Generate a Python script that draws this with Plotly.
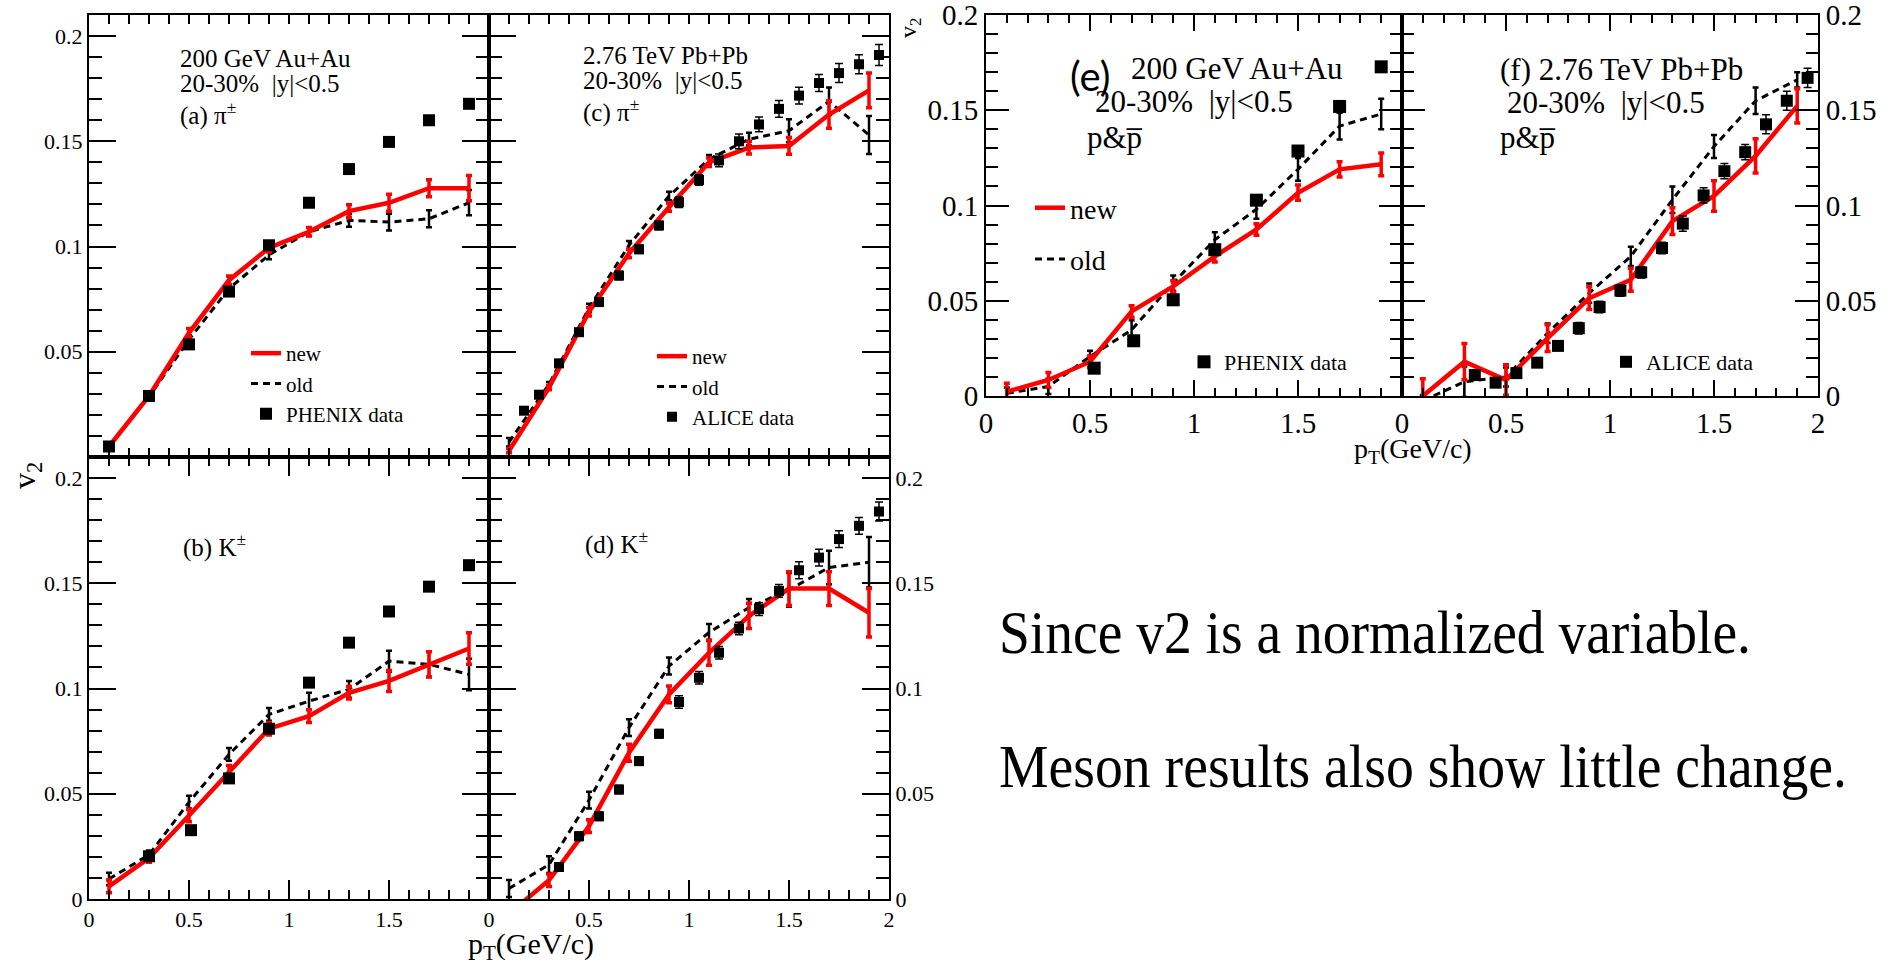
import plotly.graph_objects as go

W, H = 1890, 975
SERIF = "Liberation Serif"

# ---------------- data ----------------
x_model = [0.1, 0.3, 0.5, 0.7, 0.9, 1.1, 1.3, 1.5, 1.7, 1.9]

a_new = [0.005, 0.029, 0.059, 0.084, 0.0994, 0.107, 0.1168, 0.1208, 0.1277, 0.1277]
a_new_err = [0.001, 0.001, 0.002, 0.002, 0.002, 0.002, 0.003, 0.004, 0.004, 0.006]
a_old = [0.005, 0.0286, 0.0558, 0.080, 0.096, 0.107, 0.1124, 0.1116, 0.1132, 0.1208]
a_old_err = [0.001, 0.001, 0.002, 0.002, 0.002, 0.002, 0.003, 0.004, 0.004, 0.006]
a_data_x = [0.1, 0.3, 0.5, 0.7, 0.9, 1.1, 1.3, 1.5, 1.7, 1.9]
a_data = [0.005, 0.029, 0.0535, 0.0786, 0.1006, 0.1208, 0.1368, 0.1497, 0.160, 0.1678]

b_new = [0.006, 0.0195, 0.0397, 0.0604, 0.0809, 0.0869, 0.098, 0.1036, 0.1115, 0.119]
b_new_err = [0.003, 0.002, 0.003, 0.003, 0.003, 0.003, 0.003, 0.005, 0.006, 0.0075]
b_old = [0.0095, 0.021, 0.046, 0.0687, 0.0877, 0.094, 0.0996, 0.113, 0.1115, 0.1067]
b_old_err = [0.003, 0.002, 0.003, 0.003, 0.003, 0.004, 0.004, 0.005, 0.006, 0.0075]
b_data_x = [0.3, 0.51, 0.7, 0.9, 1.1, 1.3, 1.5, 1.7, 1.9]
b_data = [0.0203, 0.0327, 0.0573, 0.0809, 0.1028, 0.1218, 0.1366, 0.1484, 0.1586]

c_new = [0.003, 0.033, 0.069, 0.0967, 0.1187, 0.140, 0.147, 0.1478, 0.1627, 0.1742]
c_new_err = [0.001, 0.001, 0.002, 0.002, 0.002, 0.002, 0.003, 0.004, 0.0065, 0.0083]
c_old = [0.007, 0.0346, 0.0708, 0.1006, 0.124, 0.1415, 0.151, 0.155, 0.169, 0.153]
c_old_err = [0.002, 0.001, 0.002, 0.002, 0.002, 0.002, 0.003, 0.0055, 0.0065, 0.009]
c_data_x = [0.175, 0.25, 0.35, 0.45, 0.55, 0.65, 0.75, 0.85, 0.95, 1.05,
            1.15, 1.25, 1.35, 1.45, 1.55, 1.65, 1.75, 1.85, 1.95]
c_data = [0.022, 0.0296, 0.0445, 0.0593, 0.0736, 0.0862, 0.0987, 0.110, 0.121, 0.1316,
          0.1409, 0.150, 0.158, 0.1654, 0.1717, 0.1777, 0.1824, 0.1866, 0.191]
c_data_err = [0.0015, 0.0015, 0.0015, 0.0015, 0.0015, 0.002, 0.002, 0.002, 0.0025, 0.0025,
              0.003, 0.0035, 0.0035, 0.004, 0.004, 0.004, 0.0045, 0.0045, 0.005]

d_new = [-0.007, 0.0089, 0.0346, 0.0695, 0.0972, 0.117, 0.1345, 0.1475, 0.1475, 0.136]
d_new_err = [0.002, 0.003, 0.003, 0.004, 0.004, 0.006, 0.006, 0.008, 0.008, 0.0115]
d_old = [0.005, 0.0163, 0.047, 0.0814, 0.1107, 0.1266, 0.1385, 0.1469, 0.1575, 0.160]
d_old_err = [0.004, 0.004, 0.004, 0.004, 0.004, 0.004, 0.004, 0.008, 0.008, 0.012]
d_data_x = [0.35, 0.45, 0.55, 0.65, 0.75, 0.85, 0.95, 1.05, 1.15, 1.25,
            1.35, 1.45, 1.55, 1.65, 1.75, 1.85, 1.95]
d_data = [0.0152, 0.0298, 0.0393, 0.052, 0.0655, 0.0785, 0.0936, 0.1051, 0.117, 0.1285,
          0.1377, 0.1464, 0.1562, 0.1622, 0.171, 0.1773, 0.1841]
d_data_err = [0.002, 0.002, 0.002, 0.002, 0.002, 0.002, 0.003, 0.003, 0.003, 0.003,
              0.003, 0.003, 0.004, 0.004, 0.004, 0.004, 0.0045]

e_new = [0.0023, 0.0084, 0.018, 0.0444, 0.0575, 0.0733, 0.0874, 0.1067, 0.119, 0.1216]
e_new_err = [0.0044, 0.004, 0.003, 0.003, 0.003, 0.003, 0.003, 0.004, 0.004, 0.006]
e_old = [0.0014, 0.005, 0.0207, 0.0347, 0.0593, 0.082, 0.098, 0.119, 0.1417, 0.148]
e_old_err = [0.003, 0.004, 0.003, 0.005, 0.004, 0.004, 0.005, 0.006, 0.007, 0.008]
e_data_x = [0.52, 0.71, 0.9, 1.1, 1.3, 1.5, 1.7, 1.9]
e_data = [0.0146, 0.029, 0.0505, 0.0768, 0.1028, 0.1286, 0.152, 0.1728]

f_new = [0.0, 0.018, 0.0084, 0.0304, 0.0514, 0.061, 0.0918, 0.105, 0.126, 0.1523]
f_new_err = [0.009, 0.0095, 0.008, 0.007, 0.006, 0.006, 0.007, 0.008, 0.009, 0.009]
f_old = [-0.0025, 0.0075, 0.010, 0.033, 0.054, 0.0733, 0.103, 0.131, 0.155, 0.166]
f_old_err = [0.003, 0.008, 0.005, 0.005, 0.005, 0.005, 0.007, 0.006, 0.007, 0.004]
f_data_x = [0.35, 0.45, 0.55, 0.65, 0.75, 0.85, 0.95, 1.05, 1.15, 1.25,
            1.35, 1.45, 1.55, 1.65, 1.75, 1.85, 1.95]
f_data = [0.011, 0.007, 0.012, 0.0175, 0.0263, 0.0356, 0.0467, 0.0553, 0.0649, 0.0777,
          0.0905, 0.1053, 0.118, 0.128, 0.1426, 0.155, 0.167]
f_data_err = [0.002, 0.002, 0.002, 0.002, 0.002, 0.003, 0.003, 0.003, 0.003, 0.003,
              0.004, 0.004, 0.004, 0.004, 0.005, 0.005, 0.005]

x_ticks = [0, 0.5, 1, 1.5, 2]
y_ticks = [0, 0.05, 0.1, 0.15, 0.2]


def px(x):
    return x / W


def py(y):
    return 1 - y / H


def xdom(a, b):
    return [a / W, b / W]


def ydom(top, bot):
    return [1 - bot / H, 1 - top / H]


def make_axis(domain, anchor, rng, tickvals, ticktext, majlen, minlen, minor_step,
              fsize, side=None, show=True):
    ax = dict(domain=domain, anchor=anchor, range=rng, showline=True, linecolor="black",
              linewidth=2, mirror="allticks", ticks="inside", ticklen=majlen, tickwidth=2,
              tickcolor="black", tickmode="array", tickvals=tickvals, ticktext=ticktext,
              showgrid=False, zeroline=False, showticklabels=show, ticklabeloverflow="allow",
              automargin=False,
              tickfont=dict(family=SERIF, size=fsize, color="black"),
              minor=dict(ticks="inside", ticklen=minlen, tickwidth=2, tickcolor="black",
                         tickmode="linear", tick0=0, dtick=minor_step, showgrid=False))
    if side:
        ax["side"] = side
    return ax


fig = go.Figure()

panels = [
    ("a", "x", "y", a_new, a_new_err, a_old, a_old_err, a_data_x, a_data, None, "legend", "PHENIX data", 12),
    ("b", "x2", "y2", b_new, b_new_err, b_old, b_old_err, b_data_x, b_data, None, None, "PHENIX data", 12),
    ("c", "x3", "y3", c_new, c_new_err, c_old, c_old_err, c_data_x, c_data, c_data_err, "legend2", "ALICE data", 10),
    ("d", "x4", "y4", d_new, d_new_err, d_old, d_old_err, d_data_x, d_data, d_data_err, None, "ALICE data", 10),
    ("e", "x5", "y5", e_new, e_new_err, e_old, e_old_err, e_data_x, e_data, None, "legend3", "PHENIX data", 13),
    ("f", "x6", "y6", f_new, f_new_err, f_old, f_old_err, f_data_x, f_data, f_data_err, None, "ALICE data", 12),
]

for (name, xr, yr, nv, ne, ov, oe, dx, dv, de, leg, dname, ms) in panels:
    show_lines = leg is not None
    lg = leg if leg else "legend"
    fig.add_trace(go.Scatter(
        x=x_model, y=ov, mode="lines", name="old", xaxis=xr, yaxis=yr,
        line=dict(color="black", width=3, dash="7px,5px"),
        error_y=dict(type="data", array=oe, color="black", thickness=2.5, width=3),
        showlegend=show_lines, legend=lg, legendgroup=name + "old", legendrank=2))
    fig.add_trace(go.Scatter(
        x=x_model, y=nv, mode="lines", name="new", xaxis=xr, yaxis=yr,
        line=dict(color="#ff0000", width=4.5),
        error_y=dict(type="data", array=ne, color="#ff0000", thickness=3.5, width=3),
        showlegend=show_lines, legend=lg, legendgroup=name + "new", legendrank=1))
    if name in ("a", "c"):
        dleg, dshow = lg, True
    elif name == "e":
        dleg, dshow = "legend4", True
    elif name == "f":
        dleg, dshow = "legend5", True
    else:
        dleg, dshow = "legend", False
    err = dict(type="data", array=de, color="black", thickness=1.5, width=4) if de else None
    fig.add_trace(go.Scatter(
        x=dx, y=dv, mode="markers", name=dname, xaxis=xr, yaxis=yr,
        marker=dict(symbol="square", size=ms, color="black"),
        error_y=err, showlegend=dshow, legend=dleg, legendgroup=name + "data", legendrank=3))

xt_none = ["", "", "", "", ""]
xt_b = ["0", "0.5", "1", "1.5", ""]
xt_full = ["0", "0.5", "1", "1.5", "2"]
yt_a = ["", "0.05", "0.1", "0.15", "0.2"]
yt_full = ["0", "0.05", "0.1", "0.15", "0.2"]

layout_axes = dict(
    xaxis=make_axis(xdom(89, 489), "y", [0, 2], x_ticks, xt_none, 19, 9, 0.1, 22, show=False),
    yaxis=make_axis(ydom(15, 457), "x", [0, 0.21], y_ticks, yt_a, 27, 13, 0.01, 22),
    xaxis2=make_axis(xdom(89, 489), "y2", [0, 2], x_ticks, xt_b, 19, 9, 0.1, 22),
    yaxis2=make_axis(ydom(457, 899), "x2", [0, 0.21], y_ticks, yt_full, 27, 13, 0.01, 22),
    xaxis3=make_axis(xdom(489, 889), "y3", [0, 2], x_ticks, xt_none, 19, 9, 0.1, 22, show=False),
    yaxis3=make_axis(ydom(15, 457), "x3", [0, 0.21], y_ticks, yt_full, 27, 13, 0.01, 22, show=False),
    xaxis4=make_axis(xdom(489, 889), "y4", [0, 2], x_ticks, xt_full, 19, 9, 0.1, 22),
    yaxis4=make_axis(ydom(457, 899), "x4", [0, 0.21], y_ticks, yt_full, 27, 13, 0.01, 22, side="right"),
    xaxis5=make_axis(xdom(986, 1402), "y5", [0, 2], x_ticks, xt_b, 16, 8, 0.1, 29),
    yaxis5=make_axis(ydom(15, 396), "x5", [0, 0.2], y_ticks, yt_full, 23, 12, 0.01, 29),
    xaxis6=make_axis(xdom(1402, 1818), "y6", [0, 2], x_ticks, xt_full, 16, 8, 0.1, 29),
    yaxis6=make_axis(ydom(15, 396), "x6", [0, 0.2], y_ticks, yt_full, 23, 12, 0.01, 29, side="right"),
)


def legend_cfg(x, y, size, gap=0):
    return dict(x=px(x), y=py(y), xanchor="left", yanchor="top", bgcolor="rgba(0,0,0,0)",
                borderwidth=0, font=dict(family=SERIF, size=size, color="black"),
                tracegroupgap=gap, traceorder="grouped", itemclick=False)


NB = "\u00a0"
ann = []


def txt(x, y, s, size, family=SERIF, xanchor="left", angle=0, align="left", width=None):
    a = dict(x=px(x), y=py(y), xref="paper", yref="paper", text=s, showarrow=False,
             xanchor=xanchor, yanchor="middle", textangle=angle, align=align,
             font=dict(family=family, size=size, color="black"))
    if width:
        a["width"] = width
    ann.append(a)


txt(178, 58, "200 GeV Au+Au", 25)
txt(178, 84, "20-30%" + NB + NB + "|y|<0.5", 25)
txt(178, 114, "(a) π<sup>±</sup>", 25)
txt(581, 55, "2.76 TeV Pb+Pb", 25)
txt(581, 81, "20-30%" + NB + NB + "|y|<0.5", 25)
txt(581, 110, "(c) π<sup>±</sup>", 25)
txt(181, 545, "(b) K<sup>±</sup>", 25)
txt(583, 542, "(d) K<sup>±</sup>", 25)

txt(1068, 76, "(e)", 40, family="Lato")
txt(1129, 68, "200 GeV Au+Au", 31)
txt(1093, 101, "20-30%" + NB + NB + "|y|<0.5", 31)
txt(1085, 137, "p&amp;p\u0305", 31)
txt(1498, 70, "(f) 2.76 TeV Pb+Pb", 31)
txt(1505, 103, "20-30%" + NB + NB + "|y|<0.5", 31)
txt(1498, 137, "p&amp;p\u0305", 31)

txt(531, 946, "p<sub>T</sub>(GeV/c)", 30, xanchor="center")
txt(1413, 450, "p<sub>T</sub>(GeV/c)", 28, xanchor="center")
txt(26, 476, "v<sub>2</sub>", 32, xanchor="center", angle=-90)
txt(910, 28, "v<sub>2</sub>", 24, xanchor="center", angle=-90)

txt(997, 632, "Since v2 is a normalized variable.", 62, width=770)
txt(997, 766, "Meson results also show little change.", 62, width=860)

fig.update_layout(
    width=W, height=H, autosize=False,
    margin=dict(l=0, r=0, t=0, b=0, pad=0),
    paper_bgcolor="white", plot_bgcolor="white",
    font=dict(family=SERIF, color="black"),
    annotations=ann,
    legend=legend_cfg(246, 333, 21),
    legend2=legend_cfg(652, 336, 21),
    legend3=legend_cfg(1030, 183, 28, gap=12),
    legend4=legend_cfg(1184, 341, 22),
    legend5=legend_cfg(1606, 341, 22),
    **layout_axes,
)

post = """
var gd = document.getElementById('{plot_id}');
function squeeze(){
  var ts = gd.querySelectorAll('text.annotation-text');
  ts.forEach(function(t){
    var s = t.textContent || '';
    if (s.indexOf('Since') === 0) { t.setAttribute('textLength','752'); t.setAttribute('lengthAdjust','spacingAndGlyphs'); }
    else if (s.indexOf('Meson') === 0) { t.setAttribute('textLength','848'); t.setAttribute('lengthAdjust','spacingAndGlyphs'); }
  });
}
squeeze();
if (gd.on) { gd.on('plotly_afterplot', squeeze); }
"""

fig.write_html("out.html", post_script=post, config={"displayModeBar": False})
